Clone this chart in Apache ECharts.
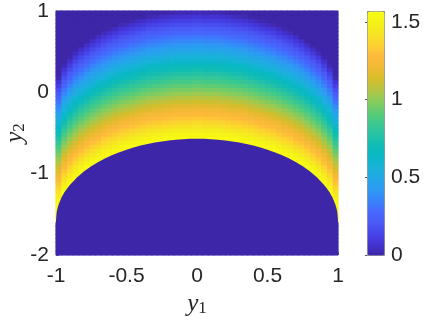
<!DOCTYPE html>
<html><head><meta charset="utf-8">
<style>html,body{margin:0;padding:0;background:#fff}#c{width:423px;height:317px;filter:blur(.5px)}</style>
<script src="https://cdn.jsdelivr.net/npm/echarts@6/dist/echarts.min.js"></script>
</head><body><div id="c"></div>
<script>
// Column centres of the left half (the picture is mirror-symmetric about y1 = 0)
const y1Left = [-.98,-.94,-.90,-.86,-.82,-.78,-.74,-.70,-.66,-.62,-.58,-.54,-.50,-.46,-.42,-.38,-.34,-.30,-.26,-.22,-.18,-.14,-.10,-.06,-.02];
// Values read per row, top row (y2 = 0.975) to bottom row (y2 = -1.975), step 0.05. Cells left off a row's end are 0.
const leftHalfRows = [
[0,0,0,0,0,0,0,0,0,0,0,0,0,0,0,0,0,0,0,0,.01,.02,.02,.02,.03],
[0,0,0,0,0,0,0,0,0,0,0,0,0,0,0,0,.02,.03,.04,.05,.06,.07,.07,.07,.08],
[0,0,0,0,0,0,0,0,0,0,0,0,0,.01,.03,.05,.07,.08,.09,.10,.11,.12,.12,.12,.13],
[0,0,0,0,0,0,0,0,0,0,0,.02,.04,.06,.08,.10,.12,.13,.14,.15,.16,.17,.17,.17,.18],
[0,0,0,0,0,0,0,0,0,.01,.04,.07,.09,.11,.13,.15,.17,.18,.19,.20,.21,.22,.22,.22,.23],
[0,0,0,0,0,0,0,0,.03,.06,.09,.12,.14,.16,.18,.20,.22,.23,.24,.25,.26,.27,.27,.27,.28],
[0,0,0,0,0,0,0,.04,.08,.11,.14,.17,.19,.21,.23,.25,.27,.28,.29,.30,.31,.32,.32,.32,.33],
[0,0,0,0,0,0,.05,.09,.13,.16,.19,.22,.24,.26,.28,.30,.32,.33,.34,.35,.36,.37,.37,.37,.38],
[0,0,0,0,0,.05,.10,.14,.18,.21,.24,.27,.29,.31,.33,.35,.37,.38,.39,.40,.41,.42,.42,.42,.43],
[0,0,0,0,.05,.10,.15,.19,.23,.26,.29,.32,.34,.36,.38,.40,.42,.43,.44,.45,.46,.47,.47,.47,.48],
[0,0,0,.04,.10,.15,.20,.24,.28,.31,.34,.37,.39,.41,.43,.45,.47,.48,.49,.50,.51,.52,.52,.52,.53],
[0,0,.01,.09,.15,.20,.25,.29,.33,.36,.39,.42,.44,.46,.48,.50,.52,.53,.54,.55,.56,.57,.57,.57,.58],
[0,0,.06,.14,.20,.25,.30,.34,.38,.41,.44,.47,.49,.51,.53,.55,.57,.58,.59,.60,.61,.62,.62,.62,.63],
[0,.02,.11,.19,.25,.30,.35,.39,.43,.46,.49,.52,.54,.56,.58,.60,.62,.63,.64,.65,.66,.67,.67,.67,.68],
[0,.07,.16,.24,.30,.35,.40,.44,.48,.51,.54,.57,.59,.61,.63,.65,.67,.68,.69,.70,.71,.72,.72,.72,.73],
[0,.12,.21,.29,.35,.40,.45,.49,.53,.56,.59,.62,.64,.66,.68,.70,.72,.73,.74,.75,.76,.77,.77,.77,.78],
[.02,.17,.26,.34,.40,.45,.50,.54,.58,.61,.64,.67,.69,.71,.73,.75,.77,.78,.79,.80,.81,.82,.82,.82,.83],
[.07,.22,.31,.39,.45,.50,.55,.59,.63,.66,.69,.72,.74,.76,.78,.80,.82,.83,.84,.85,.86,.87,.87,.87,.88],
[.12,.27,.36,.44,.50,.55,.60,.64,.68,.71,.74,.77,.79,.81,.83,.85,.87,.88,.89,.90,.91,.92,.92,.92,.93],
[.17,.32,.41,.49,.55,.60,.65,.69,.73,.76,.79,.82,.84,.86,.88,.90,.92,.93,.94,.95,.96,.97,.97,.97,.98],
[.22,.37,.46,.54,.60,.65,.70,.74,.78,.81,.84,.87,.89,.91,.93,.95,.97,.98,.99,1.00,1.01,1.02,1.02,1.02,1.03],
[.27,.42,.51,.59,.65,.70,.75,.79,.83,.86,.89,.92,.94,.96,.98,1.00,1.02,1.03,1.04,1.05,1.06,1.07,1.07,1.07,1.08],
[.32,.47,.56,.64,.70,.75,.80,.84,.88,.91,.94,.97,.99,1.01,1.03,1.05,1.07,1.08,1.09,1.10,1.11,1.12,1.12,1.12,1.13],
[.37,.52,.61,.69,.75,.80,.85,.89,.93,.96,.99,1.02,1.04,1.06,1.08,1.10,1.12,1.13,1.14,1.15,1.16,1.17,1.17,1.17,1.18],
[.42,.57,.66,.74,.80,.85,.90,.94,.98,1.01,1.04,1.07,1.09,1.11,1.13,1.15,1.17,1.18,1.19,1.20,1.21,1.22,1.22,1.22,1.23],
[.47,.62,.71,.79,.85,.90,.95,.99,1.03,1.06,1.09,1.12,1.14,1.16,1.18,1.20,1.22,1.23,1.24,1.25,1.26,1.27,1.27,1.27,1.28],
[.52,.67,.76,.84,.90,.95,1.00,1.04,1.08,1.11,1.14,1.17,1.19,1.21,1.23,1.25,1.27,1.28,1.29,1.30,1.31,1.32,1.32,1.32,1.33],
[.57,.72,.81,.89,.95,1.00,1.05,1.09,1.13,1.16,1.19,1.22,1.24,1.26,1.28,1.30,1.32,1.33,1.34,1.35,1.36,1.37,1.37,1.37,1.38],
[.62,.77,.86,.94,1.00,1.05,1.10,1.14,1.18,1.21,1.24,1.27,1.29,1.31,1.33,1.35,1.37,1.38,1.39,1.40,1.41,1.42,1.42,1.42,1.43],
[.67,.82,.91,.99,1.05,1.10,1.15,1.19,1.23,1.26,1.29,1.32,1.34,1.36,1.38,1.40,1.42,1.43,1.44,1.45,1.46,1.47,1.47,1.47,1.48],
[.72,.87,.96,1.04,1.10,1.15,1.20,1.24,1.28,1.31,1.34,1.37,1.39,1.41,1.43,1.45,1.47,1.48,1.49,1.50,1.51,1.52,1.52,1.52,1.53],
[.77,.92,1.01,1.09,1.15,1.20,1.25,1.29,1.33,1.36,1.39,1.42,1.44,1.46,1.48,1.50,1.52,1.53,1.54,1.55,1.56,1.57,1.57,1.57,1.57],
[.82,.97,1.06,1.14,1.20,1.25,1.30,1.34,1.38,1.41,1.44,1.47,1.49,1.51,1.53,1.55,1.57,1.57,1.57,1.57,1.57,1.57,1.57,1.57,1.57],
[.87,1.02,1.11,1.19,1.25,1.30,1.35,1.39,1.43,1.46,1.49,1.52,1.54,1.56,1.57,1.57,1.57,1.57],
[.92,1.07,1.16,1.24,1.30,1.35,1.40,1.44,1.48,1.51,1.54,1.57,1.57,1.57,1.57,1.57],
[.97,1.12,1.21,1.29,1.35,1.40,1.45,1.49,1.53,1.56,1.57,1.57,1.57,1.57],
[1.02,1.17,1.26,1.34,1.40,1.45,1.50,1.54,1.57,1.57,1.57,1.57],
[1.07,1.22,1.31,1.39,1.45,1.50,1.55,1.57,1.57,1.57,1.57],
[1.12,1.27,1.36,1.44,1.50,1.55,1.57,1.57,1.57,1.57],
[1.17,1.32,1.41,1.49,1.55,1.57,1.57,1.57,1.57],
[1.22,1.37,1.46,1.54,1.57,1.57,1.57,1.57],
[1.27,1.42,1.51,1.57,1.57,1.57,1.57],
[1.32,1.47,1.56,1.57,1.57,1.57],
[1.37,1.52,1.57,1.57,1.57],
[1.42,1.57,1.57,1.57],
[1.47,1.57,1.57],
[1.52,1.57,1.57],
[1.57,1.57],
[1.57],[1.57],[1.57],[1.57],
[],[],[],[],[],[],[],[]
];
// Lower edge of the coloured band, left half
const edgeY1 = [-1,-.995,-.99,-.98,-.96,-.94,-.92,-.90,-.85,-.80,-.75,-.70,-.65,-.60,-.55,-.50,-.45,-.40,-.35,-.30,-.25,-.20,-.15,-.10,-.05,0];
const edgeY2 = [-1.571,-1.471,-1.430,-1.372,-1.291,-1.230,-1.179,-1.135,-1.044,-.971,-.910,-.857,-.811,-.771,-.736,-.705,-.678,-.654,-.634,-.617,-.603,-.591,-.582,-.576,-.572,-.571];
const colourTicksMax = 1.5708;
const parula = ['#3e26a8','#4433d4','#4746eb','#4a5bf5','#4569fd','#3884fa','#2d9bf3','#22a8e5','#18b3d8','#08b8c4','#0fbcb5','#29c3a3','#3fc98c','#63cc72','#8ccc5a','#b8c441','#d8bd2a','#f2ba35','#feba3c','#fcd22f','#f6e425','#f5f317','#f9fb15'];

const y1Cols = y1Left.concat(y1Left.slice().reverse().map(v => -v));
const y2Rows = leftHalfRows.map((_, i) => (97.5 - 5 * i) / 100);
const cells = [];
leftHalfRows.forEach((row, r) => {
  y1Left.forEach((_, c) => {
    const v = row[c] === undefined ? 0 : row[c];
    cells.push([c, r, v]);
    cells.push([y1Cols.length - 1 - c, r, v]);
  });
});
const edgePts = edgeY1.map((x, i) => [x, edgeY2[i]]);
for (let i = edgeY1.length - 2; i >= 0; i--) edgePts.push([-edgeY1[i], edgeY2[i]]);

const tickFont = {fontFamily: '"Liberation Sans",Arial,sans-serif', fontSize: 21, color: '#262626'};
const mathRich = {
  i: {fontFamily: '"Liberation Serif",serif', fontStyle: 'italic', fontSize: 25, color: '#262626'},
  s: {fontFamily: '"Liberation Serif",serif', fontSize: 17, color: '#262626', verticalAlign: 'bottom', padding: [8, 0, 0, 0]}
};
const heatLayer = () => ({
  type: 'heatmap', xAxisIndex: 0, yAxisIndex: 0, data: cells,
  progressive: 0, emphasis: {disabled: true}, silent: true, z: 1
});
const chart = echarts.init(document.getElementById('c'), null, {renderer: 'canvas'});
chart.setOption({
  animation: false,
  backgroundColor: '#fff',
  grid: [
    {left: 56, top: 11, width: 282, height: 244, outerBoundsMode: 'none'},
    {left: 367, top: 11, width: 17, height: 244, outerBoundsMode: 'none'}
  ],
  xAxis: [
    {type: 'category', gridIndex: 0, data: y1Cols, show: false},
    {type: 'value', gridIndex: 0, min: -1, max: 1, interval: .5, position: 'bottom',
     splitLine: {show: false}, axisLine: {show: false},
     axisTick: {inside: true, length: 3, lineStyle: {color: '#777'}},
     axisLabel: Object.assign({margin: 11}, tickFont),
     name: '{i|y}{s|1}', nameLocation: 'middle', nameGap: 36, nameTextStyle: {rich: mathRich}},
    {type: 'value', gridIndex: 1, min: 0, max: 1, show: false}
  ],
  yAxis: [
    {type: 'category', gridIndex: 0, data: y2Rows, inverse: true, show: false},
    {type: 'value', gridIndex: 0, min: -2, max: 1, interval: 1, position: 'left',
     splitLine: {show: false}, axisLine: {show: true, lineStyle: {color: '#999', width: 1}},
     axisTick: {inside: true, length: 3, lineStyle: {color: '#777'}},
     axisLabel: Object.assign({margin: 7}, tickFont),
     name: '{i|y}{s|2}', nameLocation: 'middle', nameGap: 28, nameRotate: 90, nameMoveOverlap: false, nameTextStyle: {rich: mathRich}},
    {type: 'value', gridIndex: 1, min: 0, max: colourTicksMax, interval: .5, position: 'right',
     splitLine: {show: false}, axisLine: {show: false},
     axisTick: {inside: true, length: 2, lineStyle: {color: '#555'}},
     axisLabel: Object.assign({margin: 7, showMaxLabel: false}, tickFont)}
  ],
  visualMap: {
    type: 'continuous', seriesIndex: [0, 1, 2], min: 0, max: colourTicksMax,
    left: 367, top: 11, itemWidth: 17, itemHeight: 244, padding: 0,
    calculable: false, realtime: false, text: null, showLabel: false,
    borderColor: '#888', borderWidth: 1,
    inRange: {color: parula}
  },
  series: [heatLayer(), heatLayer(), heatLayer(), {
    type: 'line', xAxisIndex: 1, yAxisIndex: 1, data: edgePts, symbol: 'none', silent: true, z: 2,
    lineStyle: {width: 0}, areaStyle: {origin: 'start', color: '#3e26a8', opacity: 1}
  }]
});
</script></body></html>
